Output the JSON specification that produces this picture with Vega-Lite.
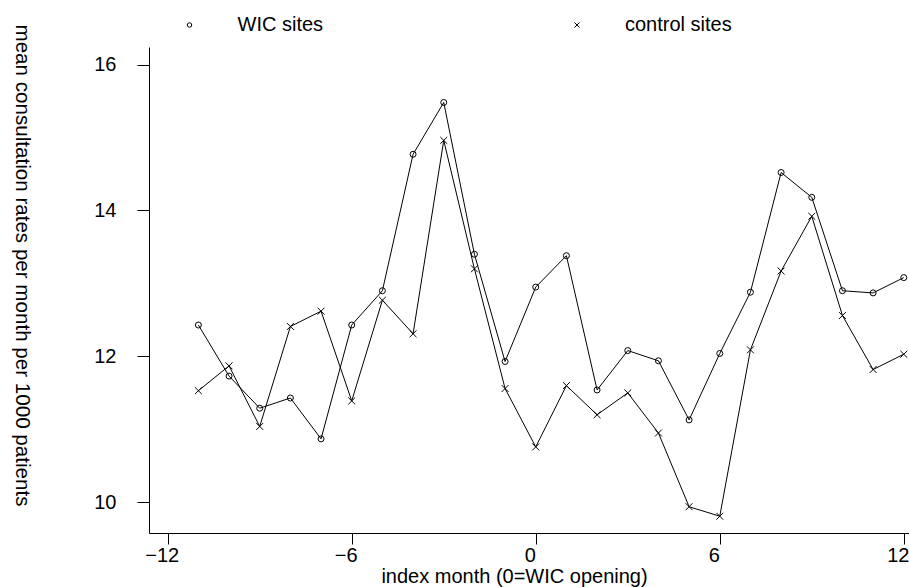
{
  "$schema": "https://vega.github.io/schema/vega-lite/v6.json",
  "width": 760,
  "height": 486,
  "autosize": {"type": "none"},
  "padding": {"left": 149, "top": 47, "right": 0, "bottom": 54},
  "background": "white",
  "config": {
    "view": {"stroke": null},
    "font": "Liberation Sans",
    "axis": {
      "grid": false,
      "domainColor": "black",
      "domainWidth": 1,
      "tickColor": "black",
      "tickWidth": 1,
      "labelColor": "black",
      "titleColor": "black",
      "labelFontSize": 20,
      "titleFontSize": 20,
      "titleFontWeight": "normal"
    },
    "legend": {"labelFontSize": 20, "labelColor": "black"}
  },
  "data": {
    "values": [
      {"month": -11, "sites": "WIC sites", "rate": 12.43},
      {"month": -10, "sites": "WIC sites", "rate": 11.73},
      {"month": -9, "sites": "WIC sites", "rate": 11.29},
      {"month": -8, "sites": "WIC sites", "rate": 11.43},
      {"month": -7, "sites": "WIC sites", "rate": 10.87},
      {"month": -6, "sites": "WIC sites", "rate": 12.43},
      {"month": -5, "sites": "WIC sites", "rate": 12.90},
      {"month": -4, "sites": "WIC sites", "rate": 14.77},
      {"month": -3, "sites": "WIC sites", "rate": 15.48},
      {"month": -2, "sites": "WIC sites", "rate": 13.40},
      {"month": -1, "sites": "WIC sites", "rate": 11.93},
      {"month": 0, "sites": "WIC sites", "rate": 12.95},
      {"month": 1, "sites": "WIC sites", "rate": 13.38},
      {"month": 2, "sites": "WIC sites", "rate": 11.54},
      {"month": 3, "sites": "WIC sites", "rate": 12.08},
      {"month": 4, "sites": "WIC sites", "rate": 11.94},
      {"month": 5, "sites": "WIC sites", "rate": 11.13},
      {"month": 6, "sites": "WIC sites", "rate": 12.04},
      {"month": 7, "sites": "WIC sites", "rate": 12.88},
      {"month": 8, "sites": "WIC sites", "rate": 14.52},
      {"month": 9, "sites": "WIC sites", "rate": 14.18},
      {"month": 10, "sites": "WIC sites", "rate": 12.90},
      {"month": 11, "sites": "WIC sites", "rate": 12.87},
      {"month": 12, "sites": "WIC sites", "rate": 13.08},
      {"month": -11, "sites": "control sites", "rate": 11.53},
      {"month": -10, "sites": "control sites", "rate": 11.87},
      {"month": -9, "sites": "control sites", "rate": 11.04},
      {"month": -8, "sites": "control sites", "rate": 12.41},
      {"month": -7, "sites": "control sites", "rate": 12.62},
      {"month": -6, "sites": "control sites", "rate": 11.39},
      {"month": -5, "sites": "control sites", "rate": 12.77},
      {"month": -4, "sites": "control sites", "rate": 12.31},
      {"month": -3, "sites": "control sites", "rate": 14.96},
      {"month": -2, "sites": "control sites", "rate": 13.20},
      {"month": -1, "sites": "control sites", "rate": 11.56},
      {"month": 0, "sites": "control sites", "rate": 10.76},
      {"month": 1, "sites": "control sites", "rate": 11.60},
      {"month": 2, "sites": "control sites", "rate": 11.20},
      {"month": 3, "sites": "control sites", "rate": 11.50},
      {"month": 4, "sites": "control sites", "rate": 10.95},
      {"month": 5, "sites": "control sites", "rate": 9.94},
      {"month": 6, "sites": "control sites", "rate": 9.81},
      {"month": 7, "sites": "control sites", "rate": 12.09},
      {"month": 8, "sites": "control sites", "rate": 13.17},
      {"month": 9, "sites": "control sites", "rate": 13.92},
      {"month": 10, "sites": "control sites", "rate": 12.56},
      {"month": 11, "sites": "control sites", "rate": 11.82},
      {"month": 12, "sites": "control sites", "rate": 12.03}
    ]
  },
  "encoding": {
    "x": {
      "field": "month",
      "type": "quantitative",
      "scale": {"domain": [-12.61, 12.17], "nice": false, "zero": false},
      "axis": {
        "values": [-12, -6, 0, 6, 12],
        "tickSize": 11,
        "labelPadding": 1,
        "labelOffset": -6,
        "labelFlush": false,
        "title": "index month (0=WIC opening)",
        "titleX": 365,
        "titleY": 49,
        "titleAlign": "center",
        "titleBaseline": "alphabetic"
      }
    },
    "y": {
      "field": "rate",
      "type": "quantitative",
      "scale": {"domain": [9.58, 16.24], "nice": false, "zero": false},
      "axis": {
        "values": [10, 12, 14, 16],
        "tickSize": 12,
        "labelPadding": 21,
        "title": "mean consultation rates per month per 1000 patients",
        "titleFontSize": 20.6,
        "titleAngle": 90,
        "titleX": -128,
        "titleY": 218,
        "titleAlign": "center",
        "titleBaseline": "middle"
      }
    }
  },
  "layer": [
    {
      "mark": {"type": "line", "color": "black", "strokeWidth": 1},
      "encoding": {"detail": {"field": "sites", "type": "nominal"}}
    },
    {
      "mark": {"type": "point", "filled": false, "color": "black", "strokeWidth": 1, "size": 36, "opacity": 1},
      "encoding": {
        "shape": {
          "field": "sites",
          "type": "nominal",
          "scale": {"domain": ["WIC sites", "control sites"], "range": ["circle", "M-1.15,-1.15L1.15,1.15M1.15,-1.15L-1.15,1.15"]},
          "legend": {
            "title": null,
            "orient": "none",
            "legendX": 30.5,
            "legendY": -32,
            "direction": "horizontal",
            "columns": 2,
            "columnPadding": 243.5,
            "labelOffset": 38,
            "symbolSize": 20,
            "symbolStrokeWidth": 1,
            "symbolStrokeColor": "black",
            "symbolFillColor": "transparent",
            "padding": 0
          }
        }
      }
    }
  ]
}
